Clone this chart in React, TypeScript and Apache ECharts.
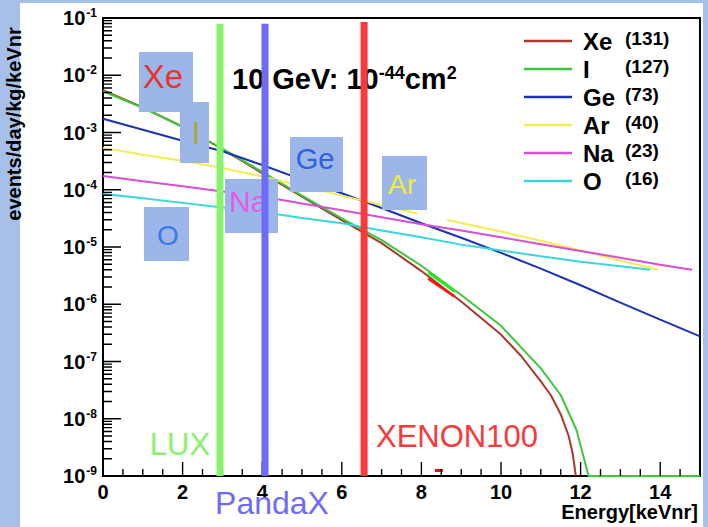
import React, { useEffect, useRef } from 'react';
import * as echarts from 'echarts';

const FONT = '"Liberation Sans", Arial, Helvetica, sans-serif';

// ---- species (legend) ----
const species = ['Xe', 'I', 'Ge', 'Ar', 'Na', 'O'];
const massNumbers = ['(131)', '(127)', '(73)', '(40)', '(23)', '(16)'];
const speciesColors = ['#a8382a', '#3cc83c', '#1a33b0', '#f2ee50', '#d650d6', '#3ad6e0'];

// ---- recoil spectra: energy [keVnr] and rate [events/day/kg/keVnr] ----
const xeEnergy = [0, 1, 2, 3, 4, 5, 6, 7, 8, 9, 10, 10.5, 11, 11.25, 11.5, 11.7, 11.8, 11.88];
const xeRate = [5.5e-3, 2.75e-3, 1.26e-3, 5.1e-4, 1.95e-4, 7.6e-5, 2.95e-5, 1.17e-5, 3.8e-6, 1.12e-6, 2.95e-7, 1.26e-7, 4.5e-8, 2.6e-8, 1.2e-8, 5.0e-9, 2.5e-9, 1.0e-9];

const iEnergy = [0, 1, 2, 3, 4, 5, 6, 7, 8, 9, 10, 10.5, 11, 11.5, 11.9, 12.05, 12.2, 15];
const iRate = [5.25e-3, 2.7e-3, 1.26e-3, 5.25e-4, 2.05e-4, 7.9e-5, 3.15e-5, 1.32e-5, 4.7e-6, 1.45e-6, 4.2e-7, 1.78e-7, 7.6e-8, 2.6e-8, 6.3e-9, 2.5e-9, 1.0e-9, 1.0e-9];

const geEnergy = [0, 1, 2, 3, 4, 5, 6, 7, 8, 9, 10, 11, 12, 13, 14, 15];
const geRate = [1.74e-3, 1.12e-3, 7.2e-4, 4.7e-4, 2.7e-4, 1.5e-4, 8.7e-5, 4.8e-5, 2.6e-5, 1.45e-5, 7.9e-6, 4.2e-6, 2.15e-6, 1.07e-6, 5.4e-7, 2.75e-7];

const arEnergy = [0, 1, 2, 3, 4, 5, 6, 7, 7.9, 8.3, 8.65, 10, 11, 12, 13, 13.95];
const arRate = [5.4e-4, 4.1e-4, 3.2e-4, 2.4e-4, 1.7e-4, 1.17e-4, 7.9e-5, 5.4e-5, 3.8e-5, null, 2.95e-5, 1.86e-5, 1.29e-5, 8.7e-6, 5.75e-6, 4.0e-6];

const naEnergy = [0, 1, 2, 3, 4, 5, 6, 7, 8, 9, 10, 11, 12, 13, 14, 14.8];
const naRate = [1.74e-4, 1.41e-4, 1.15e-4, 9.3e-5, 7.6e-5, 5.75e-5, 4.4e-5, 3.3e-5, 2.5e-5, 1.95e-5, 1.48e-5, 1.12e-5, 8.5e-6, 6.5e-6, 4.9e-6, 4.0e-6];

const oEnergy = [0, 1, 2, 3, 4, 5, 6, 7, 8, 9, 10, 11, 12, 13, 13.75];
const oRate = [8.5e-5, 7.1e-5, 5.9e-5, 4.9e-5, 4.1e-5, 3.2e-5, 2.6e-5, 1.95e-5, 1.48e-5, 1.1e-5, 8.7e-6, 6.9e-6, 5.5e-6, 4.6e-6, 4.0e-6];

const speciesEnergy = [xeEnergy, iEnergy, geEnergy, arEnergy, naEnergy, oEnergy];
const speciesRate = [xeRate, iRate, geRate, arRate, naRate, oRate];

// short highlighted segments
const greenSegEnergy = [8.17, 8.84];
const greenSegRate = [3.55e-6, 1.66e-6];
const redSegEnergy = [8.17, 8.84];
const redSegRate = [2.8e-6, 1.35e-6];
const redDashEnergy = [8.34, 8.54];
const redDashRate = [1.25e-9, 1.25e-9];

// ---- detector thresholds ----
const detectorNames = ['LUX', 'PandaX', 'XENON100'];
const detectorThreshold = [2.94, 4.07, 6.56];
const detectorTop = [0.079, 0.079, 0.085];
const detectorColors = ['#88f26c', '#6c6cf6', '#f83a3a'];
const detectorLabelPos = [[180, 444], [272, 503], [457, 436]];
const detectorLabelSize = [31, 32, 31];

// ---- boxed element labels ----
const boxLabels = ['Xe', 'I', 'O', 'Na', 'Ge', 'Ar'];
const boxTextColors = ['#e8352a', '#aaa846', '#3c78e6', '#e65ae6', '#2f62e0', '#f0ec3c'];
const boxRects = [[139, 52, 54, 60], [180, 102, 29, 61], [144, 207, 45, 54], [225, 179, 53, 54], [290, 137, 53, 55], [382, 156, 45, 54]];
const boxTextPos = [[163, 76], [196, 133], [168, 235], [247, 201], [315, 159], [402, 184]];
const boxTextSize = [33, 32, 28, 30, 29, 28];

const yMin = 1e-9;
const yMax = 1e-1;
const xMin = 0;
const xMax = 15;

// ---- layout ----
const W = 708;
const H = 527;
const gridL = 103;
const gridR = 8;
const gridT = 18;
const gridB = 51;
const pxPerX = (W - gridL - gridR) / (xMax - xMin);
const pxPerDecade = (H - gridT - gridB) / (Math.log10(yMax) - Math.log10(yMin));

// tick marks drawn as segments (lengths in pixels converted through the axis scales)
const yTickMajorLen = 18;
const yTickMinorLen = 9;
const xTickMajorLen = 14;
const xTickMinorLen = 7;

function buildTickData(): any[] {
  const d: any[] = [];
  for (let e = -9; e <= -1; e++) {
    const v = Math.pow(10, e);
    d.push([xMin, v], [xMin + yTickMajorLen / pxPerX, v], [xMin, '-']);
    if (e < -1) {
      for (let m = 2; m <= 9; m++) {
        const mv = m * v;
        d.push([xMin, mv], [xMin + yTickMinorLen / pxPerX, mv], [xMin, '-']);
      }
    }
  }
  for (let k = 1; k < 30; k++) {
    const x = xMin + k * 0.5;
    const len = k % 4 === 0 ? xTickMajorLen : xTickMinorLen;
    d.push([x, yMin], [x, yMin * Math.pow(10, len / pxPerDecade)], [x, '-']);
  }
  return d;
}

export default function App() {
  const ref = useRef<HTMLDivElement>(null);
  useEffect(() => {
    if (!ref.current) return;
    const chart = echarts.init(ref.current, undefined, { renderer: 'svg' });

    const speciesSeries = species.map((name, k) => ({
      name,
      type: 'line',
      symbol: 'none',
      z: 2,
      connectNulls: false,
      lineStyle: { color: speciesColors[k], width: 2 },
      itemStyle: { color: speciesColors[k] },
      data: speciesEnergy[k].map((x, i) => [x, speciesRate[k][i] == null ? '-' : speciesRate[k][i]]),
    }));

    const segSeries = [
      { e: greenSegEnergy, r: greenSegRate, c: '#22ee22', w: 2.5 },
      { e: redSegEnergy, r: redSegRate, c: '#ff1010', w: 2.5 },
      { e: redDashEnergy, r: redDashRate, c: '#ee1010', w: 3 },
    ].map((s) => ({
      type: 'line',
      symbol: 'none',
      silent: true,
      z: 3,
      lineStyle: { color: s.c, width: s.w },
      data: s.e.map((x, i) => [x, s.r[i]]),
    }));

    const detectorSeries = detectorNames.map((name, k) => ({
      name,
      type: 'line',
      symbol: 'none',
      silent: true,
      z: 8,
      lineStyle: { color: detectorColors[k], width: 7 },
      data: [
        [detectorThreshold[k], yMin],
        [detectorThreshold[k], detectorTop[k]],
      ],
    }));

    const tickSeries = {
      type: 'line',
      symbol: 'none',
      silent: true,
      z: 5,
      connectNulls: false,
      lineStyle: { color: '#000', width: 1.4 },
      data: buildTickData(),
    };

    const graphics: any[] = [];
    boxRects.forEach((r) => {
      graphics.push({ type: 'rect', z: 3, shape: { x: r[0], y: r[1], width: r[2], height: r[3] }, style: { fill: '#9db6ea' } });
    });
    boxLabels.forEach((t, k) => {
      const isNa = t === 'Na';
      graphics.push({
        type: 'text', z: 4,
        x: isNa ? 229 : boxTextPos[k][0], y: boxTextPos[k][1],
        style: {
          text: t, fill: boxTextColors[k], fontSize: boxTextSize[k], fontFamily: FONT,
          align: isNa ? 'left' : 'center', verticalAlign: 'middle',
        },
      });
    });
    detectorNames.forEach((t, k) => {
      graphics.push({
        type: 'text', z: 9,
        x: detectorLabelPos[k][0], y: detectorLabelPos[k][1],
        style: {
          text: t, fill: detectorColors[k], fontSize: detectorLabelSize[k], fontFamily: FONT,
          align: 'center', verticalAlign: 'middle',
        },
      });
    });
    graphics.push({
      type: 'text', z: 4, x: 232, y: 79,
      style: {
        text: '{a|10 GeV: 10}{s|-44}{a|cm}{s|2}',
        fontFamily: FONT, verticalAlign: 'middle', align: 'left',
        rich: {
          a: { fontSize: 29, fontWeight: 'bold', fill: '#000', fontFamily: FONT },
          s: { fontSize: 18, fontWeight: 'bold', fill: '#000', fontFamily: FONT, padding: [0, 0, 12, 0] },
        },
      },
    });
    graphics.push({
      type: 'text', z: 4, x: 14, y: 124, rotation: Math.PI / 2,
      style: {
        text: 'events/day/kg/keVnr', fill: '#000', fontSize: 20, fontWeight: 'bold', fontFamily: FONT,
        align: 'center', verticalAlign: 'middle',
      },
    });
    graphics.push({
      type: 'text', z: 4, x: 698, y: 512,
      style: {
        text: 'Energy[keVnr]', fill: '#000', fontSize: 20, fontWeight: 'bold', fontFamily: FONT,
        align: 'right', verticalAlign: 'middle',
      },
    });

    chart.setOption({
      animation: false,
      backgroundColor: 'transparent',
      textStyle: { fontFamily: FONT },
      grid: {
        left: gridL, right: gridR, top: gridT, bottom: gridB,
        show: true, borderColor: '#000', borderWidth: 2, backgroundColor: 'transparent',
      },
      legend: {
        data: species,
        orient: 'vertical',
        left: 519,
        top: 24,
        icon: 'rect',
        itemWidth: 48,
        itemHeight: 2.5,
        itemGap: 4,
        selectedMode: false,
        formatter: (name: string) => `{n|${name}}{m|${massNumbers[species.indexOf(name)]}}`,
        textStyle: {
          fontFamily: FONT,
          rich: {
            n: { fontSize: 24, fontWeight: 'bold', color: '#000', width: 42, padding: [0, 0, 0, 6], lineHeight: 25, fontFamily: FONT },
            m: { fontSize: 19, fontWeight: 'bold', color: '#000', padding: [0, 0, 5, 0], fontFamily: FONT },
          },
        },
      },
      xAxis: {
        type: 'value', min: xMin, max: xMax, interval: 2,
        axisLine: { show: true, lineStyle: { color: '#000', width: 2 } },
        axisTick: { show: false },
        splitLine: { show: false },
        axisLabel: { color: '#000', fontSize: 20, fontWeight: 'bold', margin: 6, showMaxLabel: false, fontFamily: FONT },
      },
      yAxis: {
        type: 'log', logBase: 10, min: yMin, max: yMax, splitNumber: 8,
        axisLine: { show: true, lineStyle: { color: '#000', width: 2 } },
        axisTick: { show: false },
        splitLine: { show: false },
        axisLabel: {
          margin: 6,
          formatter: (v: number) => `{b|10}{s|${Math.round(Math.log10(v))}}`,
          rich: {
            b: { fontSize: 20, fontWeight: 'bold', color: '#000', fontFamily: FONT },
            s: { fontSize: 12, fontWeight: 'bold', color: '#000', fontFamily: FONT, padding: [0, 0, 10, 1] },
          },
        },
      },
      graphic: graphics,
      series: [...speciesSeries, ...segSeries, ...detectorSeries, tickSeries],
    });
    return () => chart.dispose();
  }, []);
  return (
    <div style={{ position: 'absolute', left: 0, top: 0, width: W, height: H, background: '#a7c0ea', overflow: 'hidden' }}>
      <div style={{ position: 'absolute', left: 20, top: 3, width: 683, height: 524, background: '#ffffff' }} />
      <div ref={ref} style={{ position: 'absolute', left: 0, top: 0, width: W, height: H }} />
    </div>
  );
}
